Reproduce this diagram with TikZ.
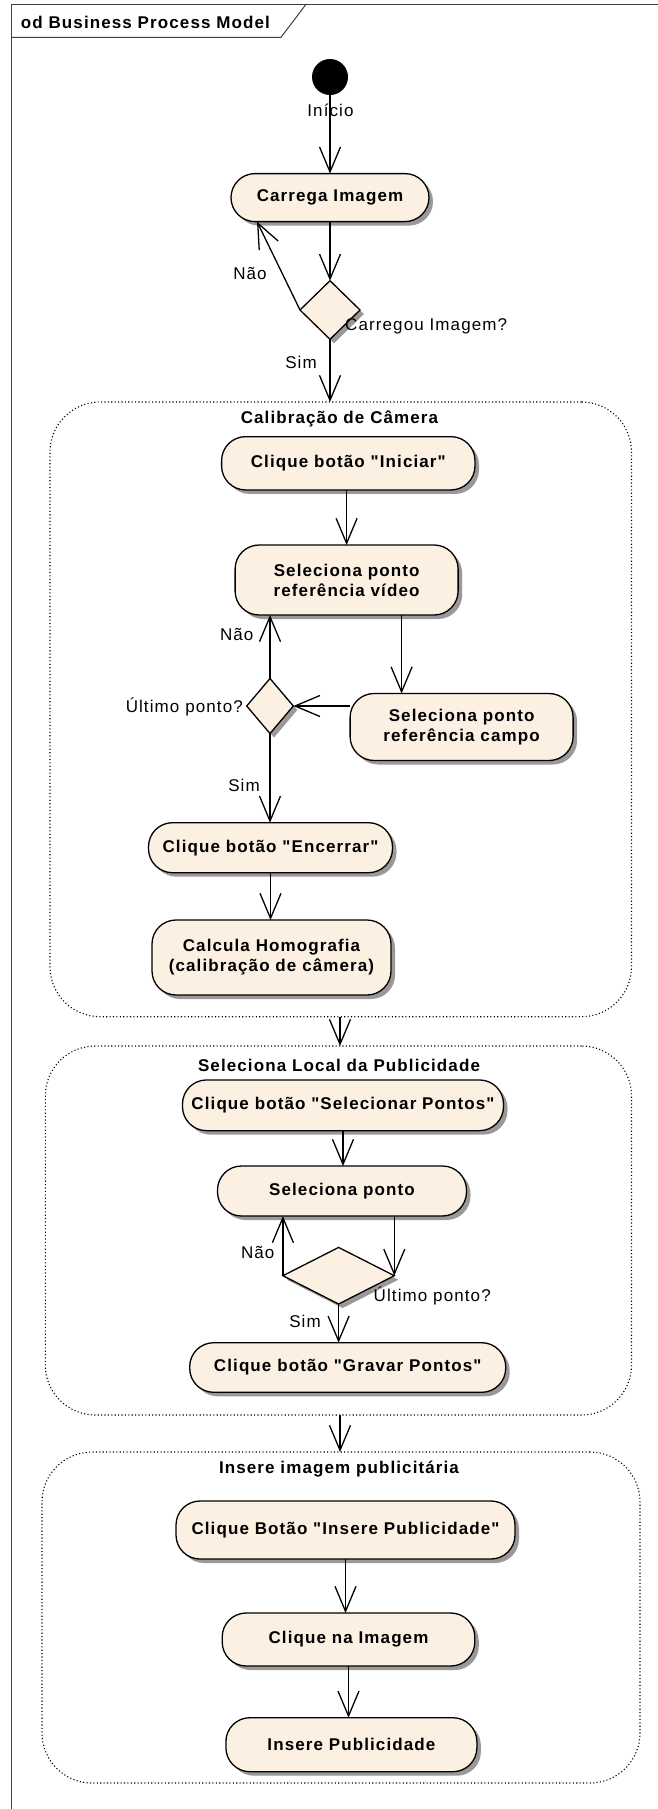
\documentclass[tikz,border=0pt]{standalone}
\usepackage{fontspec}
\setmainfont{Liberation Sans}
\newfontfamily\eafont[LetterSpace=6.5]{Liberation Sans}
\usetikzlibrary{arrows.meta,shadows,shapes.geometric}
\definecolor{actfill}{RGB}{251,240,226}
\tikzset{
  act/.style={draw=black, line width=1.3pt, fill=actfill, rounded corners=24pt,
    align=center, inner sep=0pt, outer sep=0pt,
    font=\eafont\bfseries\fontsize{17}{20}\selectfont,
    drop shadow={shadow xshift=4pt, shadow yshift=-4pt, fill=black!40, opacity=1}},
  dec/.style={diamond, draw=black, line width=1.3pt, fill=actfill, inner sep=0pt, outer sep=0pt,
    drop shadow={shadow xshift=4pt, shadow yshift=-4pt, fill=black!40, opacity=1}},
  grp/.style={draw=black, line width=1.1pt, dash pattern=on 1.1pt off 2.3pt,
    rounded corners=50pt, inner sep=0pt, outer sep=0pt},
  lbl/.style={font=\eafont\fontsize{17}{19}\selectfont, inner sep=0pt},
  ttl/.style={font=\eafont\bfseries\fontsize{17}{19}\selectfont, inner sep=0pt},
  arr/.style={line width=1.3pt, -{Straight Barb[length=25pt,width=21pt]}},
  frm/.style={draw=black!75, line width=1pt},
}
\begin{document}
\begin{tikzpicture}[x=1pt,y=-1pt]
\useasboundingbox (0,0) rectangle (658,1809);
\clip (0,0) rectangle (658,1809);
\fill[white] (0,0) rectangle (658,1809);

% frame
\draw[frm] (11.7,1820) -- (11.7,5) -- (670,5);
\draw[frm] (11.7,37.3) -- (281,37.3) -- (305.5,5);
\node[ttl, anchor=base west] (title) at (20.7,28.3) {od Business Process Model};

% groups
\node[grp, minimum width=581.5pt, minimum height=614.7pt] (box1) at (340.75,709.35) {};
\node[grp, minimum width=586.2pt, minimum height=369pt] (box2) at (338.4,1230.5) {};
\node[grp, minimum width=598pt, minimum height=331pt] (box3) at (341,1617.5) {};
\node[ttl, anchor=base] (t1) at (339.5,423.3) {Calibração de Câmera};
\node[ttl, anchor=base] (t2) at (339,1071.7) {Seleciona Local da Publicidade};
\node[ttl, anchor=base] (t3) at (339,1473.3) {Insere imagem publicitária};

% nodes
\node[circle, fill=black, minimum size=36pt, inner sep=0pt, outer sep=0pt] (start) at (330,77) {};
\node[act, minimum width=198pt, minimum height=48pt] (carrega) at (330,197.6) {Carrega Imagem};
\node[dec, minimum width=60pt, minimum height=58.6pt] (d1) at (330,310) {};

\node[act, minimum width=253.4pt, minimum height=53.3pt] (iniciar) at (348.3,463.3) {Clique botão "Iniciar"};
\node[act, minimum width=223pt, minimum height=70pt] (video) at (346.6,580) {Seleciona ponto\\referência vídeo};
\node[dec, minimum width=46.6pt, minimum height=55pt] (d2) at (270,706) {};
\node[act, minimum width=223pt, minimum height=67pt] (campo) at (461.6,727) {Seleciona ponto\\referência campo};
\node[act, minimum width=244pt, minimum height=50pt] (encerrar) at (270.5,847.7) {Clique botão "Encerrar"};
\node[act, minimum width=239pt, minimum height=75pt] (calcula) at (271.5,957.5) {Calcula Homografia\\(calibração de câmera)};

\node[act, minimum width=321pt, minimum height=50.7pt] (selecionar) at (343,1105.3) {Clique botão "Selecionar Pontos"};
\node[act, minimum width=249pt, minimum height=50pt] (selponto) at (342,1191) {Seleciona ponto};
\node[dec, minimum width=111.4pt, minimum height=56.6pt] (d3) at (338.6,1275.7) {};
\node[act, minimum width=316pt, minimum height=49.6pt] (gravar) at (347.7,1367.5) {Clique botão "Gravar Pontos"};

\node[act, minimum width=339pt, minimum height=58pt] (insbtn) at (345.5,1530) {Clique Botão "Insere Publicidade"};
\node[act, minimum width=252.6pt, minimum height=53pt] (clickimg) at (348.5,1639.5) {Clique na Imagem};
\node[act, minimum width=251pt, minimum height=54pt] (inspub) at (351.4,1744.7) {Insere Publicidade};

% connectors
\draw[arr] (start.south) -- (carrega.north);
\draw[arr] (carrega.south) -- (d1.north);
\draw[arr] (d1.west) -- ([xshift=-73pt]carrega.south);
\draw[arr] (d1.south) -- (d1.south |- box1.north);

\draw[arr] (video.north |- iniciar.south) -- (video.north);
\draw[arr] ([xshift=55pt]video.south) -- ([xshift=55pt]video.south |- campo.north);
\draw[arr] (campo.west |- d2.east) -- (d2.east);
\draw[arr] (d2.north) -- (d2.north |- video.south);
\draw[arr] (d2.south) -- (d2.south |- encerrar.north);
\draw[arr] (encerrar.south) -- (encerrar.south |- calcula.north);

\coordinate (b1s) at ([xshift=10pt]box1.south -| d1.south);
\draw[arr] (b1s) -- (b1s |- box2.north);
\draw[arr] (selecionar.south) -- (selecionar.south |- selponto.north);
\draw[arr] (d3.east |- selponto.south) -- (d3.east);
\draw[arr] (d3.west) -- (d3.west |- selponto.south);
\draw[arr] (d3.south) -- (d3.south |- gravar.north);

\draw[arr] (box2.south -| b1s) -- (b1s |- box3.north);
\draw[arr] (insbtn.south) -- (insbtn.south |- clickimg.north);
\draw[arr] (clickimg.south) -- (clickimg.south |- inspub.north);

% labels
\node[lbl, anchor=base] (linicio) at (330.5,116.7) {Início};
\node[lbl, anchor=base] (lnao1) at (250,279.3) {Não};
\node[lbl, anchor=base west] (lq1) at (345,330.7) {Carregou Imagem?};
\node[lbl, anchor=base] (lsim1) at (301,368.3) {Sim};
\node[lbl, anchor=base] (lnao2) at (236.7,640) {Não};
\node[lbl, anchor=base east] (lq2) at (243,712.5) {Último ponto?};
\node[lbl, anchor=base] (lsim2) at (244,791.8) {Sim};
\node[lbl, anchor=base] (lnao3) at (257.7,1258.8) {Não};
\node[lbl, anchor=base west] (lq3) at (373.5,1301) {Último ponto?};
\node[lbl, anchor=base] (lsim3) at (305,1327.5) {Sim};
\end{tikzpicture}
\end{document}
